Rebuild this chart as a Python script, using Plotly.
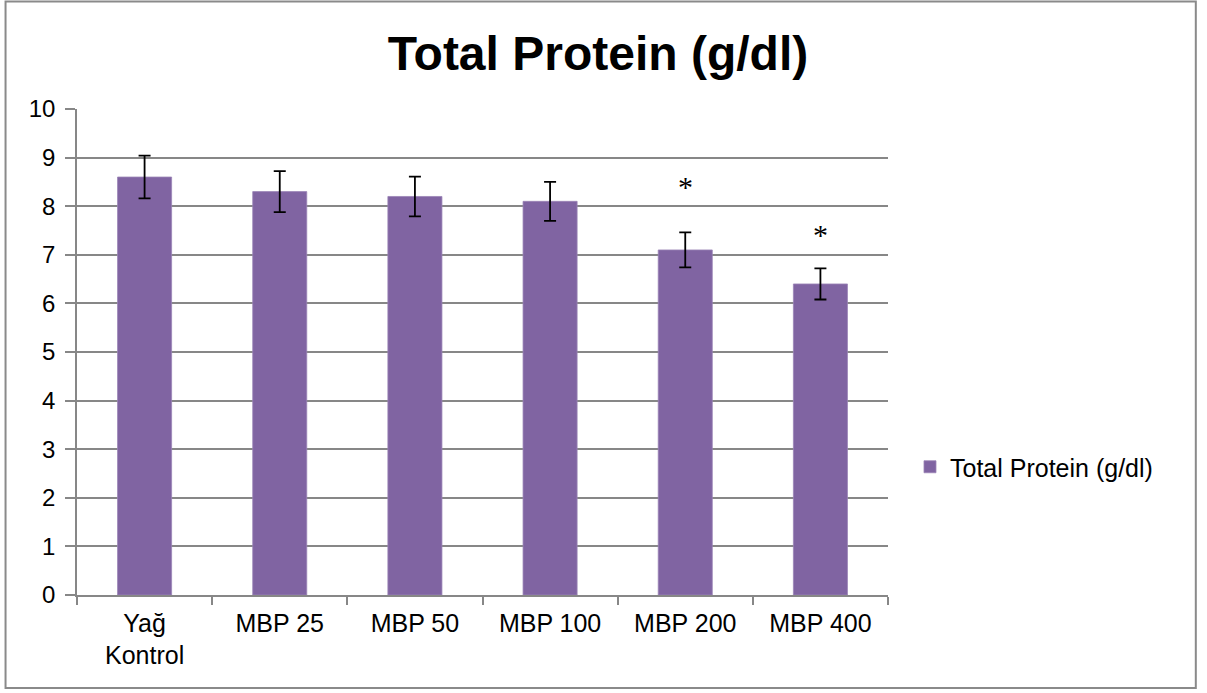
import plotly.graph_objects as go

# Total protein by group (g/dl), mean with error
groups = ["Yağ<br>Kontrol", "MBP 25", "MBP 50", "MBP 100", "MBP 200", "MBP 400"]
protein = [8.6, 8.3, 8.2, 8.1, 7.1, 6.4]
protein_err = [0.44, 0.42, 0.41, 0.40, 0.36, 0.32]
significant = ["MBP 200", "MBP 400"]
series_name = "Total Protein (g/dl)"

W, H = 1207, 693
L, R, T, B = 76.5, 888.0, 109.0, 595.0   # plot area in pixels

bar_color = "#8064A2"
grid_color = "#878787"
font_family = "Liberation Sans, Arial, sans-serif"

fig = go.Figure()
fig.add_trace(go.Bar(
    x=groups,
    y=protein,
    name=series_name,
    marker=dict(color=bar_color, line=dict(color="#9A84B6", width=0.8)),
    error_y=dict(type="data", array=protein_err, visible=True,
                 color="black", thickness=1.8, width=6),
    showlegend=True,
))

# significance markers above the error bars
star_shift = {"MBP 200": 46, "MBP 400": 34}
for g in significant:
    i = groups.index(g)
    fig.add_annotation(
        x=g, y=protein[i] + protein_err[i], xref="x", yref="y",
        text="*", showarrow=False, yanchor="middle", yshift=star_shift[g],
        font=dict(family="Liberation Serif, Times New Roman, serif", size=30, color="black"),
    )

# chart frame
def px_to_paper_x(px):
    return (px - L) / (R - L)

def px_to_paper_y(py):
    return (B - py) / (B - T)

fig.add_shape(
    type="rect", xref="paper", yref="paper",
    x0=px_to_paper_x(5), x1=px_to_paper_x(1196),
    y0=px_to_paper_y(688), y1=px_to_paper_y(1.5),
    line=dict(color="#8a8a8a", width=2), fillcolor="rgba(0,0,0,0)", layer="below",
)

fig.update_layout(
    width=W, height=H,
    margin=dict(l=L, r=W - R, t=T, b=H - B, pad=0),
    paper_bgcolor="white", plot_bgcolor="white",
    bargap=0.6,
    font=dict(family=font_family, size=24, color="black"),
    title=dict(
        text="<b>Total Protein (g/dl)</b>",
        x=598 / W, xref="container", xanchor="center",
        y=1 - 53 / H, yref="container", yanchor="middle",
        font=dict(family=font_family, size=48, color="black"),
    ),
    legend=dict(
        x=px_to_paper_x(910), y=px_to_paper_y(467), xanchor="left", yanchor="middle",
        font=dict(family=font_family, size=25, color="black"),
        bgcolor="rgba(0,0,0,0)", itemwidth=30,
    ),
    xaxis=dict(
        type="category", tickson="boundaries",
        showline=True, linecolor=grid_color, linewidth=1.5,
        ticks="outside", ticklen=8, tickcolor=grid_color, tickwidth=1.5,
        showgrid=False, tickfont=dict(size=25), ticklabelstandoff=5,
    ),
    yaxis=dict(
        range=[0, 10], dtick=1, tick0=0,
        showline=True, linecolor=grid_color, linewidth=1.5,
        ticks="outside", ticklen=10, tickcolor=grid_color, tickwidth=1.5,
        showgrid=True, gridcolor=grid_color, gridwidth=1.5,
        zeroline=False, tickfont=dict(size=24), ticklabelstandoff=5,
    ),
)

fig.write_html("out.html")
